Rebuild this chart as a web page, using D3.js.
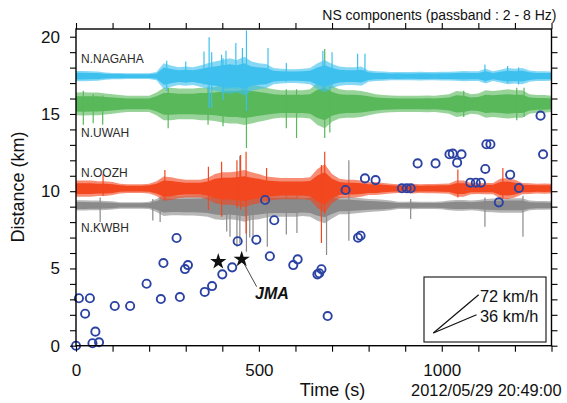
<!DOCTYPE html>
<html><head><meta charset="utf-8">
<script src="https://cdn.jsdelivr.net/npm/d3@7"></script>
<style>
html,body{margin:0;padding:0;background:#fff;}
svg{display:block;font-family:"Liberation Sans",Arial,sans-serif;}
</style></head>
<body><svg id="c" width="567" height="403"></svg>
<script>
// ---------------- DATA ----------------
const stations = ["N.NAGAHA", "N.UWAH", "N.OOZH", "N.KWBH"];
const stationDistance = [17.45, 15.65, 10.17, 9.08]; // km, trace baselines
const binStep = 20; // s, envelope sampling step
// half-amplitude envelopes (km), one value per 20 s bin from 0 to 1300 s
const ampNAGAHA = [0.32,0.32,0.3,0.28,0.22,0.2,0.2,0.18,0.17,0.17,0.18,0.25,0.8,0.65,0.55,0.6,0.55,0.65,0.8,0.9,1.0,1.1,1.0,1.2,0.9,0.8,0.75,0.5,0.45,0.42,0.42,0.45,0.5,0.8,1.0,0.75,0.6,0.55,0.55,0.6,0.35,0.3,0.28,0.25,0.26,0.25,0.25,0.27,0.26,0.25,0.27,0.27,0.28,0.32,0.3,0.3,0.45,0.3,0.4,0.5,0.45,0.5,0.35,0.3,0.3,0.28];
const ampUWAH = [0.7,0.72,0.7,0.7,0.65,0.6,0.55,0.5,0.5,0.5,0.5,0.7,1.0,1.0,0.95,0.95,0.95,1.0,1.0,1.05,1.15,1.2,1.2,1.3,1.2,1.1,1.0,0.9,0.85,0.85,0.85,0.85,0.9,1.3,1.5,1.1,0.9,0.85,0.85,0.8,0.7,0.6,0.55,0.52,0.5,0.5,0.5,0.5,0.52,0.5,0.55,0.6,0.8,0.75,0.6,0.65,0.85,0.8,0.85,0.9,0.85,0.85,0.6,0.55,0.55,0.5];
const ampOOZH = [0.5,0.5,0.5,0.45,0.45,0.4,0.3,0.27,0.27,0.27,0.3,0.45,0.75,0.7,0.6,0.55,0.55,0.55,0.65,0.9,1.0,1.0,1.05,1.15,1.0,0.9,0.75,0.7,0.65,0.65,0.65,0.65,0.7,1.2,1.5,0.9,0.6,0.55,0.55,0.5,0.4,0.4,0.35,0.3,0.27,0.27,0.3,0.27,0.28,0.28,0.3,0.32,0.5,0.5,0.35,0.33,0.35,0.35,0.6,0.65,0.55,0.35,0.33,0.3,0.32,0.3];
const ampKWBH = [0.32,0.32,0.3,0.3,0.28,0.25,0.2,0.2,0.2,0.2,0.22,0.4,0.65,0.6,0.6,0.62,0.62,0.65,0.7,0.85,0.9,0.85,0.9,1.0,0.9,0.85,0.75,0.7,0.7,0.7,0.7,0.65,0.7,0.95,1.1,0.8,0.55,0.55,0.5,0.45,0.4,0.38,0.35,0.3,0.22,0.22,0.24,0.22,0.22,0.22,0.24,0.3,0.33,0.33,0.3,0.33,0.4,0.42,0.45,0.45,0.45,0.45,0.3,0.27,0.27,0.25];
// isolated spikes: [time s, top km, bottom km]
const spikesNAGAHA = [[248,18.45,16.5],[300,18.4,17.0],[350,19.05,16.9],[364,19.96,15.4],[371,19.0,15.4],[398,18.84,16.8],[402,18.6,15.9],[410,19.1,16.6],[437,19.6,16.6],[455,19.27,16.5],[466,20.4,15.2],[525,19.27,17.0],[575,18.3,17.1],[675,19.1,16.6],[700,19.0,16.8],[770,18.9,17.2],[790,18.9,17.2],[1118,18.2,17.1],[1180,18.1,17.0],[1210,18.0,16.9]];
const spikesUWAH = [[20,16.5,14.3],[47,16.3,14.4],[73,16.2,14.3],[252,16.7,14.07],[361,16.8,14.3],[402,16.8,14.2],[466,17.0,12.8],[575,16.6,14.07],[603,16.6,13.44],[680,19.2,13.44],[694,16.8,13.8],[1060,16.5,14.8],[1205,16.7,14.6],[1225,16.7,14.8]];
const spikesOOZH = [[74,11.1,9.7],[243,11.37,9.5],[362,11.59,8.78],[398,11.91,8.35],[440,12.0,8.9],[450,12.34,8.8],[465,12.56,7.27],[521,11.5,9.2],[671,11.7,6.65],[680,12.56,8.5],[1044,11.4,9.6],[1167,11.5,9.5]];
const spikesKWBH = [[66,9.6,8.0],[210,9.5,8.1],[230,9.6,8.0],[412,10.2,7.4],[421,9.8,7.05],[440,10.0,6.4],[448,12.3,6.63],[466,10.4,6.08],[475,9.9,7.0],[484,10.2,6.9],[523,10.0,6.4],[575,9.9,7.2],[604,9.9,7.3],[685,10.8,5.87],[746,12.0,6.8],[915,9.5,8.2],[1118,9.6,7.7],[1222,9.7,7.05]];

// hypocenter-like events (time s, distance km)
const eventTime = [0,8,25,38,45,53,63,106,148,193,232,239,275,284,298,306,352,372,400,427,442,493,517,530,542,594,606,660,665,671,688,737,771,778,790,819,891,904,915,934,983,1021,1030,1042,1054,1078,1093,1107,1119,1122,1133,1156,1187,1211,1270,1277];
const eventDist = [0,3.07,2.07,3.07,0.16,0.91,0.22,2.57,2.57,4.01,3.02,5.35,6.97,3.15,4.96,5.22,3.48,3.86,4.62,5.07,6.76,6.86,9.43,5.79,8.12,5.22,5.59,4.62,4.69,4.95,1.92,10.08,6.99,7.12,10.83,10.72,10.19,10.19,10.19,11.8,11.8,12.39,12.43,11.85,12.39,10.55,10.55,10.55,11.44,13.04,13.04,9.28,11.07,10.21,14.89,12.39];

const jmaTime = [389, 453];
const jmaDist = [5.44, 5.59];
const jmaLabel = "JMA";
const jmaLeaderEnd = [494, 3.82]; // time s, km

const speeds = [72, 36];           // km/h
const speedLabels = ["72 km/h", "36 km/h"];
const speedOrigin = [977, 0.82];   // time s, km
const speedDuration = [124, 118];  // s

const xTicksMinor = d3.range(0, 1301, 100);
const xTickLabels = [0, 500, 1000];
const yTicksMinor = d3.range(0, 21, 1);
const yTickLabels = [0, 5, 10, 15, 20];

const titleText = "NS components (passband : 2 - 8 Hz)";
const xTitle = "Time (s)";
const yTitle = "Distance (km)";
const dateText = "2012/05/29 20:49:00";

// ---------------- DRAW ----------------
const svg = d3.select("#c");
const L = 76, R = 551.5, T = 29, B = 345.7;
const x = d3.scaleLinear().domain([0, 1300]).range([L, R]);
const y = d3.scaleLinear().domain([0, 20.5]).range([B, T]);

svg.append("defs").append("clipPath").attr("id", "clip")
  .append("rect").attr("x", L).attr("y", T).attr("width", R - L).attr("height", B - T);

const colors = ["#3ec0ef", "#58b85a", "#f2471f", "#8a8a8a"];
const amps = [ampNAGAHA, ampUWAH, ampOOZH, ampKWBH];
const spikes = [spikesNAGAHA, spikesUWAH, spikesOOZH, spikesKWBH];

const traces = svg.append("g").attr("clip-path", "url(#clip)");
const order = [3, 2, 1, 0];
// two layers per trace: a lighter fringe (full envelope) and a dense core
const layers = [{k: 1.05, op: 0.62}, {k: 0.7, op: 1}];
order.forEach(s => {
  const base = stationDistance[s];
  const g = traces.append("g");
  layers.forEach(l => {
    const area = d3.area()
      .x((a, i) => x(i * binStep))
      .y0(a => y(base - a * l.k))
      .y1(a => y(base + a * l.k))
      .curve(d3.curveLinear);
    g.append("path").datum(amps[s]).attr("d", area)
      .attr("fill", colors[s]).attr("fill-opacity", l.op);
  });
  g.selectAll("line").data(spikes[s]).join("line")
    .attr("x1", d => x(d[0])).attr("x2", d => x(d[0]))
    .attr("y1", d => y(d[1])).attr("y2", d => y(d[2]))
    .attr("stroke", colors[s]).attr("stroke-width", 1.2);
});

// station labels
const labelOffset = [0.83, -2.15, 0.77, -1.7];
svg.selectAll("text.st").data(stations).join("text").attr("class", "st")
  .attr("x", 81).attr("y", (d, i) => y(stationDistance[i] + labelOffset[i]))
  .attr("font-size", 12).attr("fill", "#2a2a2a").text(d => d);

// events
svg.append("g").selectAll("circle").data(eventTime).join("circle")
  .attr("cx", d => x(d)).attr("cy", (d, i) => y(eventDist[i])).attr("r", 4.1)
  .attr("fill", "none").attr("stroke", "#2b42a3").attr("stroke-width", 1.9);

// JMA
svg.append("line")
  .attr("x1", x(jmaTime[1])).attr("y1", y(jmaDist[1]))
  .attr("x2", x(jmaLeaderEnd[0])).attr("y2", y(jmaLeaderEnd[1]))
  .attr("stroke", "#333").attr("stroke-width", 0.9);
svg.append("g").selectAll("path").data(jmaTime).join("path")
  .attr("d", d3.symbol(d3.symbolStar, 82))
  .attr("transform", (d, i) => `translate(${x(d)},${y(jmaDist[i])})`)
  .attr("fill", "#111");
svg.append("text").attr("x", 255).attr("y", 298.5)
  .attr("font-size", 16).attr("font-weight", "bold").attr("font-style", "italic")
  .attr("fill", "#111").text(jmaLabel);

// frame
svg.append("rect").attr("x", L).attr("y", T).attr("width", R - L).attr("height", B - T)
  .attr("fill", "none").attr("stroke", "#000").attr("stroke-width", 1.4);

// axes
const fmtX = d => xTickLabels.includes(d) ? d : "";
const fmtY = d => yTickLabels.includes(d) ? d : "";
function styleAxis(g) {
  g.select(".domain").remove();
  g.selectAll(".tick line").attr("stroke", "#000").attr("stroke-width", 1.1);
  g.selectAll(".tick text").attr("font-size", 17).attr("fill", "#111")
    .attr("font-family", "'Liberation Sans',Arial,sans-serif");
}
svg.append("g").attr("transform", `translate(0,${B})`)
  .call(d3.axisBottom(x).tickValues(xTicksMinor).tickFormat(fmtX).tickSize(6).tickPadding(12))
  .call(styleAxis);
svg.append("g").attr("transform", `translate(0,${T})`)
  .call(d3.axisTop(x).tickValues(xTicksMinor).tickFormat("").tickSize(6))
  .call(styleAxis);
svg.append("g").attr("transform", `translate(${L},0)`)
  .call(d3.axisLeft(y).tickValues(yTicksMinor).tickFormat(fmtY).tickSize(6).tickPadding(10))
  .call(styleAxis);
svg.append("g").attr("transform", `translate(${R},0)`)
  .call(d3.axisRight(y).tickValues(yTicksMinor).tickFormat("").tickSize(6))
  .call(styleAxis);

// titles
svg.append("text").attr("x", 556.5).attr("y", 20).attr("text-anchor", "end")
  .attr("font-size", 14).attr("fill", "#111").text(titleText);
svg.append("text").attr("x", 332.5).attr("y", 395.5).attr("text-anchor", "middle")
  .attr("font-size", 18).attr("fill", "#111").text(xTitle);
svg.append("text").attr("x", 561.5).attr("y", 395.5).attr("text-anchor", "end")
  .attr("font-size", 16.4).attr("fill", "#111").text(dateText);
svg.append("text").attr("transform", "translate(24,187) rotate(-90)").attr("text-anchor", "middle")
  .attr("font-size", 18).attr("fill", "#111").text(yTitle);

// speed legend
svg.append("rect").attr("x", 424).attr("y", 277).attr("width", 122).attr("height", 65)
  .attr("fill", "#fff").attr("stroke", "#222").attr("stroke-width", 1.2);
speeds.forEach((v, i) => {
  const t1 = speedOrigin[0] + speedDuration[i];
  const d1 = speedOrigin[1] + v / 3600 * speedDuration[i];
  svg.append("line")
    .attr("x1", x(speedOrigin[0])).attr("y1", y(speedOrigin[1]))
    .attr("x2", x(t1)).attr("y2", y(d1))
    .attr("stroke", "#111").attr("stroke-width", 1.2);
  svg.append("text").attr("x", 480).attr("y", i === 0 ? 301.5 : 321.5)
    .attr("font-size", 16.4).attr("fill", "#111").text(speedLabels[i]);
});
</script></body></html>
